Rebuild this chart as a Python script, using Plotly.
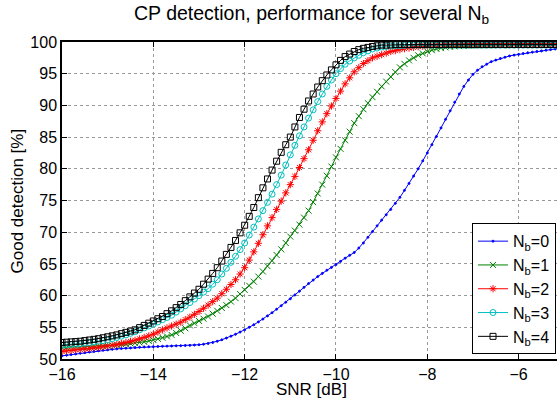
import numpy as np
import plotly.graph_objects as go

# SNR grid in dB (0.1 dB step)
snr = [round(v, 1) for v in np.arange(-16.0, -4.95, 0.1)]

nb0 = [50.5, 50.6, 50.7, 50.8, 50.9, 51.0, 51.1, 51.2, 51.3, 51.38,
       51.45, 51.53, 51.6, 51.65, 51.7, 51.75, 51.8, 51.85, 51.9, 51.93,
       51.95, 51.98, 52.0, 52.03, 52.05, 52.08, 52.1, 52.13, 52.15, 52.2,
       52.25, 52.33, 52.45, 52.6, 52.8, 53.03, 53.3, 53.6, 53.9, 54.25,
       54.6, 55.0, 55.4, 55.85, 56.3, 56.8, 57.3, 57.85, 58.4, 58.95,
       59.5, 60.1, 60.7, 61.3, 61.9, 62.45, 63.0, 63.5, 64.0, 64.45,
       64.9, 65.4, 65.9, 66.35, 66.8, 67.5, 68.3, 69.2, 70.1, 71.0,
       71.9, 72.75, 73.6, 74.55, 75.5, 76.6, 77.7, 78.85, 80.0, 81.25,
       82.5, 83.8, 85.1, 86.45, 87.8, 89.15, 90.5, 91.8, 93.0, 94.0,
       94.9, 95.55, 96.1, 96.5, 96.9, 97.15, 97.4, 97.6, 97.8, 97.93,
       98.05, 98.18, 98.3, 98.4, 98.5, 98.6, 98.7, 98.8, 98.9, 99.0,
       99.1]
nb1 = [51.8, 51.83, 51.85, 51.88, 51.9, 51.93, 51.95, 51.98, 52.0, 52.05,
       52.1, 52.15, 52.2, 52.28, 52.35, 52.43, 52.5, 52.6, 52.7, 52.85,
       53.0, 53.17, 53.35, 53.55, 53.8, 54.1, 54.45, 54.85, 55.3, 55.65,
       56.0, 56.35, 56.7, 57.15, 57.6, 58.05, 58.5, 59.05, 59.6, 60.25,
       60.9, 61.55, 62.2, 63.0, 63.8, 64.65, 65.5, 66.4, 67.3, 68.3,
       69.3, 70.25, 71.2, 72.3, 73.4, 74.75, 76.1, 77.5, 78.9, 80.35,
       81.8, 83.15, 84.5, 85.85, 87.2, 88.3, 89.4, 90.35, 91.3, 92.15,
       93.0, 93.75, 94.5, 95.25, 96.0, 96.55, 97.1, 97.5, 97.9, 98.2,
       98.5, 98.7, 98.9, 99.03, 99.15, 99.23, 99.3, 99.35, 99.4, 99.43,
       99.45, 99.47, 99.48, 99.5, 99.5, 99.5, 99.52, 99.52, 99.53, 99.54,
       99.55, 99.55, 99.56, 99.57, 99.57, 99.58, 99.58, 99.59, 99.6, 99.6,
       99.6]
nb2 = [51.2, 51.28, 51.35, 51.43, 51.5, 51.58, 51.65, 51.75, 51.85, 51.95,
       52.05, 52.18, 52.3, 52.45, 52.6, 52.78, 52.95, 53.18, 53.4, 53.65,
       53.9, 54.25, 54.6, 54.9, 55.2, 55.5, 55.8, 56.2, 56.6, 57.05,
       57.5, 58.0, 58.5, 59.05, 59.6, 60.3, 61.0, 61.75, 62.5, 63.4,
       64.4, 65.6, 66.9, 68.25, 69.6, 71.0, 72.3, 73.6, 74.9, 76.2,
       77.5, 78.8, 80.2, 81.6, 83.0, 84.5, 86.0, 87.4, 88.7, 89.9,
       91.1, 92.25, 93.4, 94.35, 95.3, 95.95, 96.6, 97.05, 97.5, 97.75,
       98.0, 98.25, 98.5, 98.65, 98.8, 98.95, 99.05, 99.15, 99.25, 99.33,
       99.4, 99.45, 99.5, 99.52, 99.55, 99.58, 99.6, 99.62, 99.64, 99.66,
       99.68, 99.7, 99.7, 99.7, 99.72, 99.72, 99.72, 99.74, 99.74, 99.74,
       99.75, 99.75, 99.75, 99.76, 99.76, 99.76, 99.77, 99.77, 99.77, 99.78,
       99.78]
nb3 = [52.2, 52.25, 52.3, 52.35, 52.4, 52.5, 52.6, 52.7, 52.8, 52.9,
       53.0, 53.2, 53.4, 53.6, 53.8, 54.05, 54.3, 54.6, 54.9, 55.2,
       55.5, 55.85, 56.2, 56.55, 56.9, 57.4, 57.9, 58.4, 58.9, 59.45,
       60.0, 60.55, 61.1, 61.8, 62.5, 63.4, 64.3, 65.25, 66.2, 67.25,
       68.3, 69.55, 70.8, 72.1, 73.4, 74.7, 76.0, 77.5, 79.0, 80.6,
       82.2, 83.7, 85.2, 86.6, 88.0, 89.3, 90.6, 91.8, 93.0, 94.0,
       95.0, 95.8, 96.5, 97.0, 97.5, 97.9, 98.3, 98.6, 98.9, 99.05,
       99.2, 99.3, 99.35, 99.4, 99.4, 99.45, 99.5, 99.5, 99.5, 99.5,
       99.5, 99.5, 99.5, 99.5, 99.5, 99.5, 99.5, 99.5, 99.5, 99.5,
       99.5, 99.5, 99.5, 99.5, 99.5, 99.5, 99.5, 99.5, 99.5, 99.5,
       99.5, 99.5, 99.5, 99.5, 99.5, 99.5, 99.5, 99.5, 99.5, 99.5,
       99.5]
nb4 = [52.6, 52.65, 52.7, 52.75, 52.8, 52.9, 53.0, 53.1, 53.2, 53.35,
       53.5, 53.65, 53.8, 54.0, 54.2, 54.4, 54.6, 54.95, 55.3, 55.65,
       56.0, 56.35, 56.7, 57.15, 57.6, 58.1, 58.6, 59.2, 59.8, 60.4,
       61.0, 61.8, 62.6, 63.5, 64.4, 65.45, 66.5, 67.6, 68.7, 69.9,
       71.1, 72.5, 73.9, 75.45, 77.0, 78.4, 79.8, 81.2, 82.6, 83.8,
       85.0, 86.6, 88.1, 89.4, 90.7, 91.8, 92.9, 93.9, 94.8, 95.6,
       96.4, 97.1, 97.7, 98.1, 98.5, 98.8, 99.0, 99.15, 99.3, 99.4,
       99.5, 99.5, 99.55, 99.6, 99.6, 99.6, 99.6, 99.6, 99.6, 99.6,
       99.6, 99.6, 99.6, 99.6, 99.6, 99.6, 99.6, 99.6, 99.6, 99.6,
       99.6, 99.6, 99.6, 99.6, 99.6, 99.6, 99.6, 99.6, 99.6, 99.6,
       99.6, 99.6, 99.6, 99.6, 99.6, 99.6, 99.6, 99.6, 99.6, 99.6,
       99.6]

names = ["N<sub>b</sub>=0", "N<sub>b</sub>=1", "N<sub>b</sub>=2",
         "N<sub>b</sub>=3", "N<sub>b</sub>=4"]
series = [nb0, nb1, nb2, nb3, nb4]
colors = ["#0000ff", "#008000", "#ff0000", "#00bfbf", "#000000"]
symbols = ["circle", "x-thin-open", "asterisk-open", "circle-open", "square-open"]
sizes = [2, 6, 6, 6, 6]

fig = go.Figure()
for name, ys, c, s, sz in zip(names, series, colors, symbols, sizes):
    fig.add_trace(go.Scatter(
        x=snr, y=ys, mode="lines+markers", name=name,
        line=dict(color=c, width=1),
        marker=dict(symbol=s, size=sz, color=c, line=dict(color=c, width=1)),
    ))

font = "Liberation Sans, Arial, Helvetica, sans-serif"
fig.update_layout(
    template="none",
    width=557, height=402,
    margin=dict(l=62, r=0, t=42, b=43),
    paper_bgcolor="white", plot_bgcolor="white",
    font=dict(family=font, size=16, color="black"),
    showlegend=True,
    legend=dict(x=0.998, y=0.015, xanchor="right", yanchor="bottom",
                bgcolor="white", bordercolor="black", borderwidth=1,
                font=dict(size=16), itemwidth=30, tracegroupgap=0),
    annotations=[
        dict(text="CP detection, performance for several N<sub>b</sub>",
             x=0.505, y=1.087, xref="paper", yref="paper",
             xanchor="center", yanchor="middle", showarrow=False,
             font=dict(size=19.5)),
        dict(text="SNR [dB]", x=0.505, y=-0.097, xref="paper", yref="paper",
             xanchor="center", yanchor="middle", showarrow=False,
             font=dict(size=17)),
        dict(text="Good detection [%]", x=-0.089, y=0.5, xref="paper",
             yref="paper", xanchor="center", yanchor="middle",
             showarrow=False, textangle=-90, font=dict(size=17)),
    ],
)
fig.update_xaxes(
    range=[-16, -5.16], tickvals=[-16, -14, -12, -10, -8, -6],
    showline=True, linecolor="black", linewidth=1.5, mirror="ticks",
    ticks="inside", ticklen=5, tickcolor="black", tickwidth=1,
    showgrid=True, gridcolor="#999999", griddash="dot", gridwidth=1,
    zeroline=False, automargin=False, tickfont=dict(size=16),
)
fig.update_yaxes(
    range=[50, 100], tickvals=list(range(50, 101, 5)),
    showline=True, linecolor="black", linewidth=1.5, mirror=False,
    ticks="inside", ticklen=5, tickcolor="black", tickwidth=1,
    showgrid=True, gridcolor="#999999", griddash="dot", gridwidth=1,
    zeroline=False, automargin=False, tickfont=dict(size=16),
)
fig.write_html(
    "out.html",
    config={"displayModeBar": False},
    post_script="document.body.style.margin='0';document.body.style.overflow='hidden';",
)
